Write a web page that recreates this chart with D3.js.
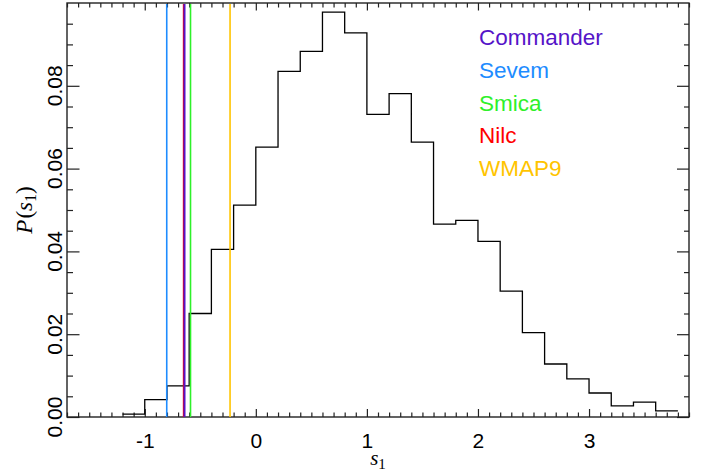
<!DOCTYPE html>
<html>
<head>
<meta charset="utf-8">
<script src="https://cdn.jsdelivr.net/npm/d3@7"></script>
<style>
  html, body { margin: 0; padding: 0; background: #fff; }
  svg { display: block; }
</style>
</head>
<body>
<svg id="chart" width="716" height="474"></svg>
<script>
// ---- data ----
const binStarts = [-1.2, -1.0, -0.8, -0.6, -0.4, -0.2, 0.0, 0.2, 0.4, 0.6, 0.8, 1.0, 1.2,
                   1.4, 1.6, 1.8, 2.0, 2.2, 2.4, 2.6, 2.8, 3.0, 3.2, 3.4, 3.6];
const binWidth = 0.2;
const probs = [0.0007, 0.0042, 0.0075, 0.0250, 0.0405, 0.0512, 0.0652, 0.0835, 0.0883, 0.0978,
               0.0928, 0.0731, 0.0781, 0.0664, 0.0466, 0.0475, 0.0424, 0.0304, 0.0204, 0.0128,
               0.0092, 0.0058, 0.0027, 0.0036, 0.0015];
const methods = ["Nilc", "Commander", "Sevem", "Smica", "WMAP9"];
const methodValues = [-0.650, -0.642, -0.802, -0.588, -0.232];
const legendOrder = ["Commander", "Sevem", "Smica", "Nilc", "WMAP9"];
const colors = {Commander: "#5514c8", Sevem: "#1e8cff", Smica: "#2ef02a", Nilc: "#ff0000", WMAP9: "#ffc400"};
const xMajor = [-1, 0, 1, 2, 3];
const yMajor = [0, 0.02, 0.04, 0.06, 0.08];
const yTickLabels = ["0.00", "0.02", "0.04", "0.06", "0.08"];

// ---- layout ----
const L = 67, R = 689, T = 3, B = 417;
const svg = d3.select("#chart");
const x = d3.scaleLinear().domain([-1.7, 3.9]).range([L, R]);
const y = d3.scaleLinear().domain([0, 0.1]).range([B, T]);
const font = "'Liberation Sans', Arial, Helvetica, sans-serif";

const xMinor = d3.range(-17, 40).map(i => i / 10).filter(v => Math.abs(v - Math.round(v)) > 1e-6);
const yMinor = d3.range(1, 20).map(i => i * 0.005).filter(v => Math.abs(v / 0.02 - Math.round(v / 0.02)) > 1e-6);

function styleAxis(g) {
  g.select(".domain").remove();
  g.selectAll("line").attr("stroke", "#222").attr("stroke-width", 1.2);
}
// bottom
svg.append("g").attr("transform", `translate(0,${B})`)
  .call(d3.axisBottom(x).tickValues(xMinor).tickSize(-4.5).tickFormat(""))
  .call(styleAxis);
svg.append("g").attr("transform", `translate(0,${B})`)
  .call(d3.axisBottom(x).tickValues(xMajor).tickSize(-8).tickFormat(d3.format("d")).tickPadding(16))
  .call(styleAxis)
  .call(g => g.selectAll("text").attr("font-family", font).attr("font-size", 21).attr("fill", "#000")
    .text(d => d < 0 ? "-" + Math.abs(d) : String(d)));
// top
svg.append("g").attr("transform", `translate(0,${T})`)
  .call(d3.axisTop(x).tickValues(xMinor).tickSize(-4.5).tickFormat(""))
  .call(styleAxis);
svg.append("g").attr("transform", `translate(0,${T})`)
  .call(d3.axisTop(x).tickValues(xMajor).tickSize(-7.5).tickFormat(""))
  .call(styleAxis);
// left
svg.append("g").attr("transform", `translate(${L},0)`)
  .call(d3.axisLeft(y).tickValues(yMinor).tickSize(-6).tickFormat(""))
  .call(styleAxis);
svg.append("g").attr("transform", `translate(${L},0)`)
  .call(d3.axisLeft(y).tickValues(yMajor).tickSize(-12.5).tickFormat(""))
  .call(styleAxis);
// y tick labels rotated
svg.append("g").selectAll("text").data(yMajor).join("text")
  .attr("transform", d => `translate(62,${y(d)}) rotate(-90)`)
  .attr("text-anchor", "middle")
  .attr("font-family", font).attr("font-size", 21).attr("fill", "#000")
  .text((d, i) => yTickLabels[i]);
// right
svg.append("g").attr("transform", `translate(${R},0)`)
  .call(d3.axisRight(y).tickValues(yMinor).tickSize(-5).tickFormat(""))
  .call(styleAxis);
svg.append("g").attr("transform", `translate(${R},0)`)
  .call(d3.axisRight(y).tickValues(yMajor).tickSize(-12).tickFormat(""))
  .call(styleAxis);

// frame
svg.append("rect").attr("x", L).attr("y", T).attr("width", R - L).attr("height", B - T)
  .attr("fill", "none").attr("stroke", "#222").attr("stroke-width", 1.4);

// histogram steps
const pts = [];
binStarts.forEach((s, i) => {
  pts.push([x(s), y(probs[i])]);
  pts.push([x(s + binWidth), y(probs[i])]);
});
svg.append("path").attr("d", d3.line()(pts))
  .attr("fill", "none").attr("stroke", "#000").attr("stroke-width", 1.3);

// vertical lines
svg.append("g").selectAll("line").data(methods).join("line")
  .attr("x1", (d, i) => x(methodValues[i])).attr("x2", (d, i) => x(methodValues[i]))
  .attr("y1", T + 1).attr("y2", B)
  .attr("stroke", d => colors[d]).attr("stroke-width", d => d === "Commander" ? 2 : 1.6);

// legend
svg.append("g").selectAll("text").data(legendOrder).join("text")
  .attr("x", 479).attr("y", (d, i) => 45 + i * 32.8)
  .attr("font-family", font).attr("font-size", 22.5)
  .attr("fill", d => colors[d]).text(d => d);

// axis titles
const serif = "'Liberation Serif', 'DejaVu Serif', serif";
const xl = svg.append("text").attr("x", 378).attr("y", 465).attr("text-anchor", "middle")
  .attr("font-family", serif).attr("font-size", 21).attr("fill", "#000");
xl.append("tspan").attr("font-style", "italic").text("s");
xl.append("tspan").attr("font-size", 15).attr("dy", 4).text("1");

const yl = svg.append("text").attr("transform", `translate(32,${(T + B) / 2}) rotate(-90)`)
  .attr("text-anchor", "middle")
  .attr("font-family", serif).attr("font-size", 23).attr("fill", "#000");
yl.append("tspan").attr("font-style", "italic").text("P");
yl.append("tspan").attr("dx", 1).text("(");
yl.append("tspan").attr("font-style", "italic").text("s");
yl.append("tspan").attr("font-size", 16).attr("dy", 4).text("1");
yl.append("tspan").attr("dy", -4).text(")");
</script>
</body>
</html>
